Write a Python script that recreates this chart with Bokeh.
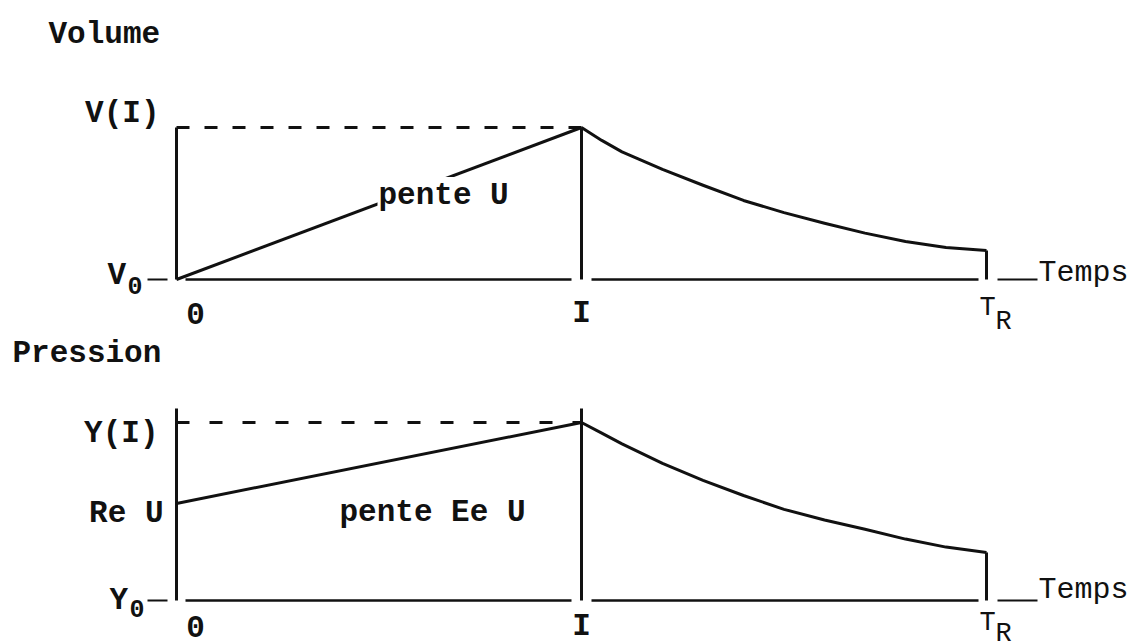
from bokeh.plotting import figure
from bokeh.models import Range1d
from bokeh.core.properties import value
from bokeh.embed import file_html
from bokeh.resources import INLINE

# Time landmarks (normalised so that the end of insufflation I = 1, T_R = 2)
T0, T_I, T_R = 0.0, 1.0, 2.0

# Volume: linear ramp of slope U up to V(I), then passive decay until T_R
V0, V_I = 0.0, 1.0
vol_decay_t = [1.0, 1.05, 1.1, 1.2, 1.3, 1.4, 1.5, 1.6, 1.7, 1.8, 1.9, 2.0]
vol_decay_v = [1.0, 0.915, 0.84, 0.725, 0.62, 0.52, 0.44, 0.37, 0.305, 0.25, 0.21, 0.19]

# Pressure: jump to Re U, ramp of slope Ee U up to Y(I), then decay until T_R
Y0, RE_U, Y_I = 0.0, 0.545, 1.0
prs_decay_t = [1.0, 1.05, 1.1, 1.2, 1.3, 1.4, 1.5, 1.6, 1.7, 1.8, 1.9, 2.0]
prs_decay_y = [1.0, 0.94, 0.88, 0.77, 0.675, 0.59, 0.512, 0.452, 0.40, 0.345, 0.30, 0.27]

W, H = 1135, 642
OX, SX = 176, 405.0          # pixel column of t = 0, pixels per time unit
VOL_OY, VOL_SY = 279, 152.0  # pixel row of V0, pixels per volume unit
PRS_OY, PRS_SY = 600, 178.0  # pixel row of Y0, pixels per pressure unit

FONT = value("Liberation Mono")
INK = "#111111"
LW = 3

p = figure(width=W, height=H, output_backend="svg", toolbar_location=None,
           x_axis_location=None, y_axis_location=None,
           x_range=Range1d(-OX / SX, (W - OX) / SX),
           y_range=Range1d(-(H - VOL_OY) / VOL_SY, VOL_OY / VOL_SY),
           min_border=0, outline_line_color=None,
           background_fill_color="white", border_fill_color="white")
p.grid.visible = False
p.extra_y_ranges = {
    "vol": Range1d(-(H - VOL_OY) / VOL_SY, VOL_OY / VOL_SY),
    "prs": Range1d(-(H - PRS_OY) / PRS_SY, PRS_OY / PRS_SY),
}


def lx(n):
    return n / SX


def label(x, y, txt, rng, size="31px", bold=True, align="left", **kw):
    p.text(x=[x], y=[y], text=[txt], text_font=FONT, text_font_size=size,
           text_font_style="bold" if bold else "normal", text_color=INK,
           text_align=align, text_baseline="alphabetic", y_range_name=rng, **kw)


def panel(rng, sy, y_base, y_peak, ramp_start, decay_t, decay_v, axis_over, dash):
    ly = lambda n: n / sy
    kw = dict(line_color=INK, y_range_name=rng)

    # axes with the small gaps around I and T_R
    p.line([T0, T0], [y_base, y_peak + ly(axis_over)], line_width=LW, **kw)
    p.segment(x0=[T0 + lx(9), T_I + lx(10)], y0=[y_base, y_base],
              x1=[T_I - lx(10), T_R - lx(8)], y1=[y_base, y_base],
              line_width=2.5, **kw)
    p.segment(x0=[T0 - lx(29), T_R + lx(11)], y0=[y_base, y_base],
              x1=[T0 - lx(9), T_R + lx(51)], y1=[y_base, y_base],
              line_width=2, **kw)

    # level reached at I
    p.line([T0, T_I], [y_peak, y_peak], line_width=LW, line_dash=dash, **kw)

    # ramp, vertical at I, decay, vertical at T_R
    p.line([T0, T_I], [ramp_start, y_peak], line_width=LW, **kw)
    p.line([T_I, T_I], [y_base, y_peak + ly(axis_over)], line_width=LW, **kw)
    p.line(decay_t, decay_v, line_width=LW, line_join="round", **kw)
    p.line([T_R, T_R], [y_base, decay_v[-1]], line_width=LW, **kw)


# ---- Volume ----
vly = lambda n: n / VOL_SY
panel("vol", VOL_SY, V0, V_I, V0, vol_decay_t, vol_decay_v, 0, "13 15")
label(T0 - lx(128), V0 + vly(245), "Volume", "vol")
label(T0 - lx(17), V_I + vly(14), "V(I)", "vol", align="right")
label(T0 - lx(69), V0 + vly(4), "V", "vol")
label(T0 - lx(49), V0 - vly(6), "0", "vol", size="25px")
label(T0 + lx(19), V0 - vly(34), "0", "vol", align="center")
label(T_I, V0 - vly(34), "I", "vol", align="center")
label(T_R - lx(7), V0 - vly(28), "T", "vol", size="27px", bold=False)
label(T_R + lx(9), V0 - vly(42), "R", "vol", size="27px", bold=False)
label(T_R + lx(52), V0 + vly(7), "Temps", "vol", size="30px", bold=False)
label(T0 + lx(201), V0 + vly(84), "pente U", "vol",
      background_fill_color="white", padding=1)

# ---- Pression ----
ply = lambda n: n / PRS_SY
panel("prs", PRS_SY, Y0, Y_I, RE_U, prs_decay_t, prs_decay_y, 14, "13 20")
label(T0 - lx(164), Y0 + ply(247), "Pression", "prs")
label(T0 - lx(18), Y_I - ply(11), "Y(I)", "prs", align="right")
label(T0 - lx(13), RE_U - ply(10), "Re U", "prs", align="right")
label(T0 - lx(67), Y0, "Y", "prs")
label(T0 - lx(47), Y0 - ply(8), "0", "prs", size="25px")
label(T0 + lx(19), Y0 - ply(26), "0", "prs", align="center")
label(T_I, Y0 - ply(26), "I", "prs", align="center")
label(T_R - lx(7), Y0 - ply(22), "T", "prs", size="27px", bold=False)
label(T_R + lx(9), Y0 - ply(33), "R", "prs", size="27px", bold=False)
label(T_R + lx(52), Y0 + ply(11), "Temps", "prs", size="30px", bold=False)
label(T0 + lx(163), Y0 + ply(88), "pente Ee U", "prs")

open("out.html", "w").write(file_html(p, INLINE))
